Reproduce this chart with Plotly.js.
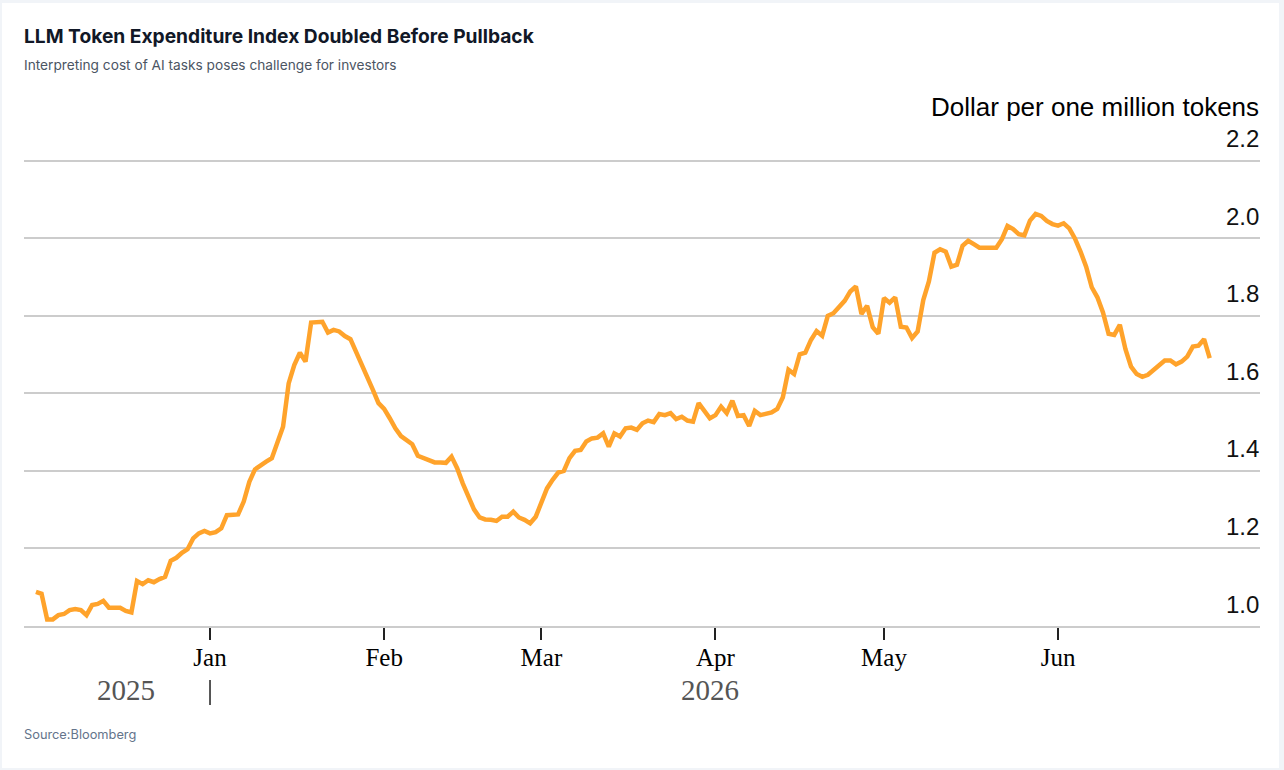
<!DOCTYPE html>
<html>
<head>
<meta charset="utf-8">
<script src="https://cdn.plot.ly/plotly-3.0.1.min.js"></script>
<style>
  html, body { margin: 0; padding: 0; background: #f1f4f8; }
  #card { position: absolute; left: 2px; top: 3px; width: 1277px; height: 765px; background: #ffffff; }
  #chart { position: absolute; left: 0; top: 0; width: 1284px; height: 770px; }
</style>
</head>
<body>
<div id="card"></div>
<div id="chart"></div>
<script>
// Daily index values, starting 1 Dec 2025 (USD per one million tokens)
const startDate = '2025-12-01';
const indexValues = [
  1.088, 1.083, 1.017, 1.017, 1.028, 1.031, 1.041, 1.044, 1.041, 1.028,
  1.054, 1.057, 1.065, 1.047, 1.047, 1.047, 1.039, 1.035, 1.116, 1.108,
  1.118, 1.113, 1.121, 1.127, 1.168, 1.176, 1.189, 1.198, 1.226, 1.239,
  1.245, 1.239, 1.242, 1.252, 1.286, 1.287, 1.288, 1.321, 1.372, 1.404,
  1.415, 1.424, 1.433, 1.476, 1.514, 1.626, 1.673, 1.705, 1.682, 1.783,
  1.785, 1.785, 1.757, 1.764, 1.760, 1.748, 1.740, 1.708, 1.673, 1.648,
  1.609, 1.575, 1.560, 1.536, 1.510, 1.490, 1.480, 1.469, 1.439, 1.434,
  1.426, 1.422, 1.422, 1.421, 1.437, 1.407, 1.368, 1.334, 1.301, 1.280,
  1.275, 1.274, 1.271, 1.282, 1.282, 1.295, 1.280, 1.274, 1.265, 1.282,
  1.321, 1.355, 1.377, 1.396, 1.400, 1.433, 1.452, 1.454, 1.476, 1.484,
  1.486, 1.497, 1.463, 1.497, 1.489, 1.510, 1.512, 1.506, 1.523, 1.530,
  1.526, 1.547, 1.544, 1.549, 1.534, 1.540, 1.530, 1.527, 1.575, 1.557,
  1.536, 1.544, 1.566, 1.549, 1.581, 1.542, 1.544, 1.516, 1.555, 1.544,
  1.548, 1.551, 1.560, 1.590, 1.661, 1.650, 1.701, 1.705, 1.738, 1.761,
  1.749, 1.800, 1.807, 1.822, 1.839, 1.863, 1.876, 1.805, 1.826, 1.771,
  1.754, 1.846, 1.834, 1.848, 1.772, 1.770, 1.743, 1.760, 1.841, 1.889,
  1.963, 1.972, 1.966, 1.927, 1.932, 1.981, 1.994, 1.985, 1.976, 1.976,
  1.976, 1.976, 1.998, 2.032, 2.024, 2.011, 2.008, 2.046, 2.063, 2.058,
  2.045, 2.037, 2.033, 2.039, 2.026, 2.000, 1.966, 1.927, 1.874, 1.848,
  1.809, 1.754, 1.751, 1.777, 1.714, 1.669, 1.650, 1.643, 1.648, 1.661,
  1.674, 1.685, 1.685, 1.675, 1.682, 1.695, 1.721, 1.723, 1.740, 1.691
];

// Month ticks on the time axis
const monthTicks = ['2026-01-01', '2026-02-01', '2026-03-01', '2026-04-01', '2026-05-01', '2026-06-01'];
const monthLabels = ['Jan', 'Feb', 'Mar', 'Apr', 'May', 'Jun'];

// Value axis ticks
const valueTicks = [1.0, 1.2, 1.4, 1.6, 1.8, 2.0, 2.2];

// Year labels under the month labels, and the year boundary
const yearLabels = ['2025', '2026'];
const yearCentres = ['2025-12-17', '2026-03-31'];
const yearBoundary = '2026-01-01';

const titleText = 'LLM Token Expenditure Index Doubled Before Pullback';
const subtitleText = 'Interpreting cost of AI tasks poses challenge for investors';
const sourceText = 'Source:Bloomberg';
const unitText = 'Dollar per one million tokens';

// Build the daily date sequence for the series
const dates = [];
(function () {
  const d0 = new Date(startDate + 'T00:00:00Z');
  for (let i = 0; i < indexValues.length; i++) {
    const d = new Date(d0.getTime() + i * 86400000);
    dates.push(d.toISOString().slice(0, 10));
  }
})();

const trace = {
  type: 'scatter',
  mode: 'lines',
  x: dates,
  y: indexValues,
  line: { color: '#ffa32b', width: 4.5, shape: 'linear' },
  hoverinfo: 'x+y'
};

const serif = 'Liberation Serif, Times New Roman, serif';
const sans = 'Liberation Sans, Arial, Helvetica, sans-serif';
const ui = 'Inter, Roboto, Noto Sans, sans-serif';

const plotH = 469; // plot area height in px, used to place paper-referenced text
const plotTop = 157;
const plotBottom = 626;

// Value labels sit just above their gridlines, right-aligned at the plot edge
const valueLabelAnnotations = valueTicks.map(v => ({
  text: v.toFixed(1), xref: 'paper', yref: 'y',
  x: 1, xanchor: 'right',
  y: v, yanchor: 'middle', yshift: 22,
  showarrow: false, borderpad: 0,
  font: { family: sans, size: 24, color: '#111111' }
}));

const layout = {
  width: 1284,
  height: 770,
  paper_bgcolor: 'rgba(0,0,0,0)',
  plot_bgcolor: 'rgba(0,0,0,0)',
  margin: { l: 24, r: 24, t: plotTop, b: 770 - plotBottom },
  showlegend: false,
  title: {
    text: titleText,
    font: { family: ui, size: 19.2, color: '#111827', weight: 700 },
    x: 24 / 1284, xanchor: 'left', xref: 'container',
    y: 1 - 36 / 770, yanchor: 'middle', yref: 'container'
  },
  xaxis: {
    type: 'date',
    range: ['2025-11-28 21:00', '2026-07-06 23:00'],
    tickmode: 'array',
    tickvals: monthTicks,
    ticktext: monthLabels,
    ticks: 'outside',
    ticklen: 12,
    tickwidth: 2,
    tickcolor: '#222222',
    ticklabelstandoff: -4,
    tickfont: { family: serif, size: 25, color: '#000000' },
    showgrid: false,
    showline: true,
    linecolor: '#cccccc',
    linewidth: 2,
    zeroline: false,
    fixedrange: true
  },
  yaxis: {
    range: [1.0, 2.21],
    side: 'right',
    tickmode: 'array',
    tickvals: valueTicks,
    showticklabels: false,
    ticks: '',
    showgrid: true,
    gridcolor: '#cccccc',
    gridwidth: 2,
    zeroline: false,
    showline: false,
    fixedrange: true
  },
  annotations: [
    {
      text: subtitleText, xref: 'paper', yref: 'paper',
      x: 0, xanchor: 'left', xshift: -1, y: 1 + (plotTop - 65) / plotH, yanchor: 'middle',
      showarrow: false, borderpad: 0, font: { family: ui, size: 13.7, color: '#4b5563' }
    },
    {
      text: unitText, xref: 'paper', yref: 'paper',
      x: 1, xanchor: 'right', y: 1 + (plotTop - 107) / plotH, yanchor: 'middle',
      showarrow: false, borderpad: 0, font: { family: sans, size: 26, color: '#000000' }
    },
    {
      text: sourceText, xref: 'paper', yref: 'paper',
      x: 0, xanchor: 'left', xshift: -1, y: -(734 - plotBottom) / plotH, yanchor: 'middle',
      showarrow: false, borderpad: 0, font: { family: ui, size: 12.8, color: '#64748b' }
    }
  ].concat(yearLabels.map((t, i) => ({
    text: t, xref: 'x', yref: 'paper',
    x: yearCentres[i], xanchor: 'center', y: -(690 - plotBottom) / plotH, yanchor: 'middle',
    showarrow: false, font: { family: serif, size: 29, color: '#555555' }
  }))).concat(valueLabelAnnotations),
  shapes: [
    {
      type: 'line', xref: 'x', yref: 'paper',
      x0: yearBoundary, x1: yearBoundary,
      y0: -(680 - plotBottom) / plotH, y1: -(705 - plotBottom) / plotH,
      line: { color: '#555555', width: 2 }
    }
  ]
};

Plotly.newPlot('chart', [trace], layout, { displayModeBar: false, staticPlot: true });
</script>
</body>
</html>
